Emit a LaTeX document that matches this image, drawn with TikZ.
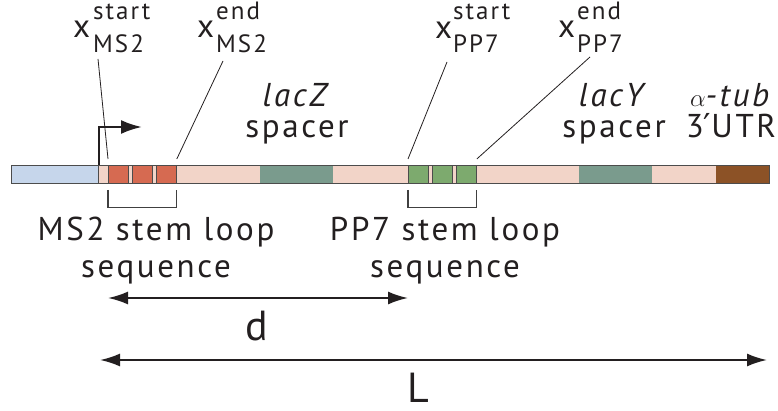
\documentclass[tikz,border=0pt]{standalone}
\usepackage{fontspec}
\setmainfont{PT Sans}[LetterSpace=8]
\newfontfamily\primefont{DejaVu Sans}
\usetikzlibrary{arrows.meta, positioning, calc}

\definecolor{ink}{HTML}{231F20}
\definecolor{barblue}{HTML}{C6D6EB}
\definecolor{barpink}{HTML}{F2D4C8}
\definecolor{ms2red}{HTML}{D66A51}
\definecolor{pp7green}{HTML}{7DAA6E}
\definecolor{spacergrey}{HTML}{7A9B8D}
\definecolor{utrbrown}{HTML}{8C5226}

\begin{document}
\begin{tikzpicture}[x=1pt, y=-1pt,
  seg/.style={rectangle, inner sep=0pt, minimum height=18pt, anchor=north west},
  loopbox/.style={seg, draw=black!70, line width=0.8pt, minimum width=20pt},
  txt/.style={inner sep=0pt, text=ink, font=\fontsize{33}{36}\selectfont},
  big/.style={inner sep=0pt, text=ink, font=\fontsize{42}{48}\selectfont, anchor=base, text depth=0pt},
  idx/.style={inner sep=0pt, text=ink, font=\fontsize{25}{28}\selectfont, anchor=base west},
  leader/.style={draw=ink, line width=0.8pt},
  bracket/.style={draw=black!75, line width=1.2pt},
  dim/.style={line width=2pt, draw=ink}
]
\useasboundingbox (0,0) rectangle (778,411);

%% Bar
\node[seg, fill=barpink, minimum width=671pt] (body) at (98,165) {};
\node[seg, fill=barblue, draw=black!70, line width=0.8pt, minimum width=87pt] (prom) at (11,165) {};
\node[seg, fill=spacergrey, minimum width=73pt] (lacz) at (260,165) {};
\node[seg, fill=spacergrey, minimum width=73pt] (lacy) at (579,165) {};
\node[seg, fill=utrbrown, minimum width=53pt] (utr) at (716,165) {};
\node[loopbox, fill=ms2red] (ms1) at (108,165) {};
\node[loopbox, fill=ms2red] (ms2) at (132,165) {};
\node[loopbox, fill=ms2red] (ms3) at (156,165) {};
\node[loopbox, fill=pp7green] (pp1) at (408,165) {};
\node[loopbox, fill=pp7green] (pp2) at (432,165) {};
\node[loopbox, fill=pp7green] (pp3) at (456,165) {};
\draw[black!70, line width=0.8pt] (prom.north west) rectangle (utr.south east);

%% Promoter
\coordinate (tss) at (142,127);
\draw[ink, line width=2.5pt, -{Latex[length=21pt,width=14pt]}] (prom.north east) |- (tss);

%% Position labels
\node[txt, anchor=base west] (xa) at (73,38) {x};
\node[idx] (xa-sup) at (93,20) {start};
\node[idx] (xa-sub) at (93,53) {MS2};
\node[txt, anchor=base west] (xb) at (197,38) {x};
\node[idx] (xb-sup) at (216,20) {end};
\node[idx] (xb-sub) at (216,53) {MS2};
\node[txt, anchor=base west] (xc) at (435,39) {x};
\node[idx] (xc-sup) at (453,20) {start};
\node[idx] (xc-sub) at (453,53) {PP7};
\node[txt, anchor=base west] (xd) at (558,38) {x};
\node[idx] (xd-sup) at (577,20) {end};
\node[idx] (xd-sub) at (577,53) {PP7};

\coordinate (la) at (98,59);
\coordinate (lb) at (223,61);
\coordinate (lc) at (447,62);
\coordinate (ld) at (590,57);
\draw[leader] (la) -- ([yshift=6pt]ms1.north west);
\draw[leader] (lb) -- ([yshift=6pt]ms3.north east);
\draw[leader] (lc) -- ([yshift=6pt]pp1.north west);
\draw[leader] (ld) -- ([yshift=6pt]pp3.north east);

%% Segment labels
\node[txt, align=center, anchor=base] (laczcap) at (297,138) {\textit{lacZ}\\[-5pt]spacer};
\node[txt, align=center, anchor=base] (lacycap) at (614,138) {\textit{lacY}\\[-5pt]spacer};
\node[txt, align=center, anchor=base] (utrcap) at (731,138) {$\alpha$\textit{-tub}\\[-5pt]3{\primefont ′}UTR};

%% Stem loop brackets
\draw[bracket] ([yshift=-6pt]ms1.south west) -- ++(0,18) -| ([yshift=-6pt]ms3.south east);
\draw[bracket] ([yshift=-6pt]pp1.south west) -- ++(0,18) -| ([yshift=-6pt]pp3.south east);
\node[txt, align=center, anchor=base] (ms2cap) at (156,277) {MS2 stem loop\\sequence};
\node[txt, align=center, anchor=base] (pp7cap) at (445,277) {PP7 stem loop\\sequence};

%% Distances
\coordinate (d-from) at (108,298);
\coordinate (d-to) at (408,298);
\coordinate (L-from) at (100,360);
\coordinate (L-to) at (767,360);
\draw[dim, {Latex[length=20pt,width=13pt]}-{Latex[length=20pt,width=13pt]}] (d-from) -- (d-to);
\draw[dim, {Latex[length=20pt,width=13pt]}-{Latex[length=20pt,width=13pt]}] (L-from) -- (L-to);
\node[big] (dlab) at (257,340) {d};
\node[big] (Llab) at (418,402) {L};

\end{tikzpicture}
\end{document}
